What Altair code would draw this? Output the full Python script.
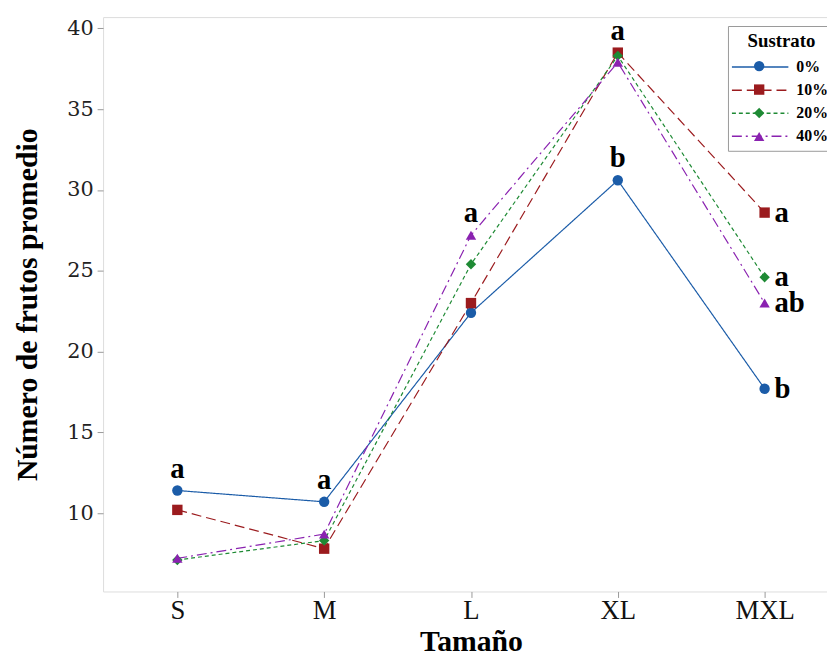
import altair as alt
import pandas as pd

categories = ["S", "M", "L", "XL", "MXL"]
series = ["0%", "10%", "20%", "40%"]
values_0 = [11.4, 10.7, 22.4, 30.6, 17.7]
values_10 = [10.2, 7.8, 23.0, 38.5, 28.6]
values_20 = [7.1, 8.3, 25.4, 38.3, 24.6]
values_40 = [7.2, 8.7, 27.2, 37.9, 23.0]

# significance letters above points: (category, series, letter)
above_cat = ["S", "M", "L", "XL", "XL"]
above_ser = ["0%", "0%", "40%", "10%", "0%"]
above_txt = ["a", "a", "a", "a", "b"]
# letters right of the MXL points
right_cat = ["MXL", "MXL", "MXL", "MXL"]
right_ser = ["10%", "20%", "40%", "0%"]
right_txt = ["a", "a", "ab", "b"]

colors = ["#1B5CA8", "#9B1B1E", "#1E8A34", "#8A22B0"]
dashes = [[1, 0], [10, 5], [4, 3], [10, 4, 2, 4]]
shapes = ["circle", "square", "diamond", "triangle-up"]

all_vals = [values_0, values_10, values_20, values_40]
rows = []
for s, vals in zip(series, all_vals):
    for c, v in zip(categories, vals):
        rows.append({"Tamaño": c, "Valor": v, "Sustrato": s})
df = pd.DataFrame(rows)

def lookup(c, s):
    return all_vals[series.index(s)][categories.index(c)]

df_above = pd.DataFrame({"Tamaño": above_cat, "Sustrato": above_ser, "txt": above_txt,
                         "Valor": [lookup(c, s) for c, s in zip(above_cat, above_ser)]})
df_right = pd.DataFrame({"Tamaño": right_cat, "Sustrato": right_ser, "txt": right_txt,
                         "Valor": [lookup(c, s) for c, s in zip(right_cat, right_ser)]})

SERIF = "Liberation Serif"

x_enc = alt.X("Tamaño:N", sort=categories,
              scale=alt.Scale(type="point", domain=categories, range=[75, 668], padding=0),
              axis=alt.Axis(title="Tamaño", labelAngle=0, labelFont=SERIF, labelFontSize=27,
                            labelColor="#111", labelPadding=0, tickSize=6, tickColor="#999",
                            domain=False, titleFont=SERIF, titleFontSize=30, titleFontWeight="bold",
                            titleColor="#000", titlePadding=4, grid=False))
y_enc = alt.Y("Valor:Q",
              scale=alt.Scale(domain=[5.15, 40.7], nice=False, zero=False),
              axis=alt.Axis(title="Número de frutos promedio", values=[10, 15, 20, 25, 30, 35, 40],
                            labelFont="DejaVu Serif", labelFontSize=21, labelColor="#222",
                            labelPadding=4, tickSize=6, tickColor="#999", domain=False, grid=False,
                            titleFont=SERIF, titleFontSize=30, titleFontWeight="bold",
                            titleColor="#000", titlePadding=24))

line_legend = alt.Legend(orient="none", legendX=631, legendY=9, title="Sustrato",
                         titleFont=SERIF, titleFontSize=19, titleFontWeight="bold", titleColor="#000",
                         titleAnchor="middle", titlePadding=5,
                         labelFont=SERIF, labelFontSize=16, labelFontWeight="bold", labelColor="#000",
                         symbolType="M-2.714,0H2.714", symbolSize=441, symbolStrokeWidth=1.5,
                         symbolOffset=15, labelOffset=25, rowPadding=3.3, padding=6,
                         fillColor="white", strokeColor="#999")
point_legend = alt.Legend(orient="none", legendX=631, legendY=9, title=" ",
                          titleFont=SERIF, titleFontSize=19, titleFontWeight="bold", titleOpacity=0,
                          titleAnchor="middle", titlePadding=5,
                          labelFont=SERIF, labelFontSize=21, labelOpacity=0, labelExpr="' '",
                          symbolSize=110, symbolStrokeWidth=0, symbolOffset=15, rowPadding=1.7, padding=6)

color_scale = alt.Scale(domain=series, range=colors)

lines = alt.Chart(df).mark_line(strokeWidth=1.2).encode(
    x=x_enc, y=y_enc,
    color=alt.Color("Sustrato:N", scale=color_scale, legend=line_legend),
    strokeDash=alt.StrokeDash("Sustrato:N", scale=alt.Scale(domain=series, range=dashes), legend=line_legend),
)
points = alt.Chart(df).mark_point(filled=True, size=110, opacity=1).encode(
    x=x_enc, y=y_enc,
    color=alt.Color("Sustrato:N", scale=color_scale, legend=point_legend),
    shape=alt.Shape("Sustrato:N", scale=alt.Scale(domain=series, range=shapes), legend=point_legend),
)
txt_above = alt.Chart(df_above).mark_text(font=SERIF, fontSize=29, fontWeight="bold", color="#000",
                                           baseline="alphabetic", dy=-13).encode(
    x=x_enc, y=y_enc, text="txt:N")
txt_right = alt.Chart(df_right).mark_text(font=SERIF, fontSize=29, fontWeight="bold", color="#000",
                                           align="left", baseline="middle", dx=10).encode(
    x=x_enc, y=y_enc, text="txt:N")

chart = alt.layer(lines, points, txt_above, txt_right).resolve_legend(
    color="independent", shape="independent", strokeDash="independent"
).properties(
    width=731, height=580,
    autosize=alt.AutoSizeParams(type="none"),
    padding={"left": 96, "top": 6, "right": 0, "bottom": 66},
).configure_view(stroke="#9a9a9a", strokeWidth=1.2).configure(background="white")

chart.save("out.html", embed_options={"renderer": "svg", "actions": False})
